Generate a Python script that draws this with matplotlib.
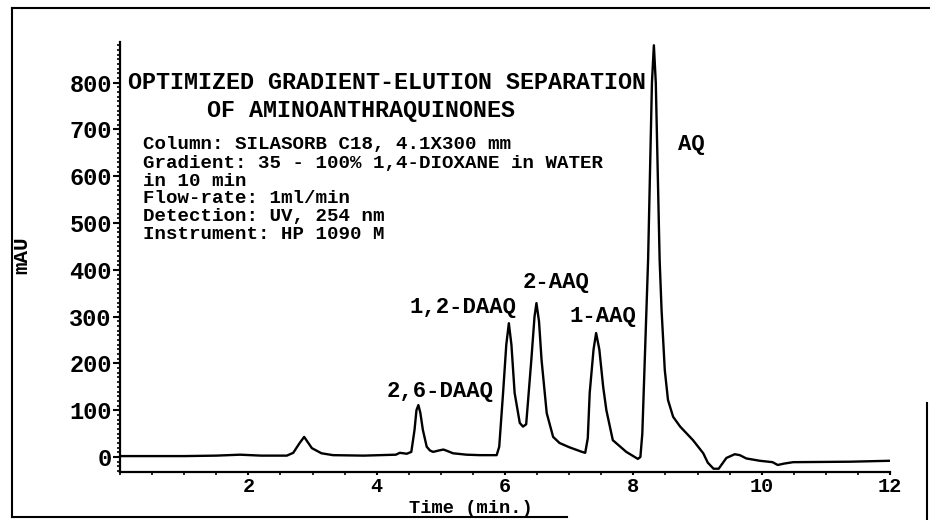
import matplotlib
matplotlib.use("Agg")
import matplotlib.pyplot as plt
from matplotlib.lines import Line2D
from matplotlib.ticker import MultipleLocator


# chromatogram trace (time in min, absorbance in mAU)
time_min = [
    0.00, 0.50, 1.00, 1.50, 1.87, 2.20, 2.60, 2.70, 2.80, 2.87, 2.92, 2.99,
    3.14, 3.32, 3.80, 4.30, 4.36, 4.47, 4.54, 4.59, 4.62, 4.65, 4.68, 4.72,
    4.78, 4.83, 4.88, 4.97, 5.04, 5.10, 5.19, 5.40, 5.61, 5.87, 5.91, 5.97,
    6.02, 6.06, 6.10, 6.15, 6.23, 6.28, 6.33, 6.41, 6.46, 6.49, 6.53, 6.57,
    6.65, 6.75, 6.85, 7.00, 7.20, 7.25, 7.29, 7.32, 7.38, 7.42, 7.47, 7.53,
    7.58, 7.68, 7.89, 8.07, 8.11, 8.14, 8.23, 8.29, 8.32, 8.35, 8.41, 8.44,
    8.49, 8.54, 8.62, 8.73, 8.93, 9.09, 9.16, 9.25, 9.33, 9.45, 9.58, 9.66,
    9.76, 9.97, 10.17, 10.25, 10.35, 10.49, 11.38, 12.00,
]
signal_mau = [
    2, 2, 2, 3, 5, 3, 3, 9, 30, 43, 33, 19,
    8, 4, 3, 5, 9, 7, 11, 58, 100, 111, 95, 58,
    22, 14, 11, 14, 16, 13, 8, 5, 4, 4, 22, 137,
    240, 286, 240, 137, 73, 65, 70, 207, 300, 329, 290, 207,
    94, 43, 30, 21, 11, 9, 40, 137, 230, 265, 230, 150,
    100, 36, 11, -4, 0, 50, 421, 800, 880, 800, 421, 314,
    186, 122, 86, 65, 36, 8, -12, -25, -25, -2, 6, 4,
    -3, -8, -11, -17, -14, -11, -10, -8,
]

peak_names = ["2,6-DAAQ", "1,2-DAAQ", "2-AAQ", "1-AAQ", "AQ"]
peak_label_pos = [(4.99, 139), (5.35, 320), (6.79, 372), (7.53, 301), (8.91, 667)]

title_lines = ["OPTIMIZED GRADIENT-ELUTION SEPARATION", "OF AMINOANTHRAQUINONES"]
info_lines = [
    "Column: SILASORB C18, 4.1X300 mm",
    "Gradient: 35 - 100% 1,4-DIOXANE in WATER",
    "in 10 min",
    "Flow-rate: 1ml/min",
    "Detection: UV, 254 nm",
    "Instrument: HP 1090 M",
]
info_y = [667, 627, 589, 553, 515, 476]

FONT = "Liberation Mono"

fig = plt.figure(figsize=(9.3, 5.2), dpi=100)
ax = fig.add_axes([120 / 930, 1 - 472 / 520, 770 / 930, 430 / 520])

ax.plot(time_min, signal_mau, color="black", lw=1.7, solid_joinstyle="round")

ax.set_xlim(0, 12)
ax.set_ylim(-32, 887)
ax.spines["top"].set_visible(False)
ax.spines["right"].set_visible(False)
ax.spines["left"].set_linewidth(1.6)
ax.spines["bottom"].set_linewidth(1.6)

ax.xaxis.set_major_locator(MultipleLocator(2))
ax.xaxis.set_minor_locator(MultipleLocator(0.5))
ax.yaxis.set_major_locator(MultipleLocator(100))
ax.yaxis.set_minor_locator(MultipleLocator(10))
ax.set_xticks([2, 4, 6, 8, 10, 12])
ax.set_yticks(range(0, 900, 100))
ax.tick_params(axis="y", which="major", direction="out", length=5, width=1.5, pad=1)
ax.tick_params(axis="y", which="minor", direction="out", length=2.5, width=1.2)
ax.tick_params(axis="x", which="major", direction="out", length=2.5, width=1.5, pad=1)
ax.tick_params(axis="x", which="minor", direction="out", length=2, width=1.2)
for lab in ax.get_yticklabels():
    lab.set_fontfamily(FONT)
    lab.set_fontweight("bold")
    lab.set_fontsize(17)
for lab in ax.get_xticklabels():
    lab.set_fontfamily(FONT)
    lab.set_fontweight("bold")
    lab.set_fontsize(14.5)

ax.set_xlabel("Time (min.)", fontfamily=FONT, fontweight="bold", fontsize=13.5,
              va="center")
ax.xaxis.set_label_coords(0.456, -0.086)
ax.set_ylabel("mAU", fontfamily=FONT, fontweight="bold", fontsize=15,
              va="center")
ax.yaxis.set_label_coords(-0.127, 0.505)

ax.text(0.12, 801, title_lines[0], fontfamily=FONT, fontweight="bold",
        fontsize=16.8, ha="left", va="center")
ax.text(1.36, 741, title_lines[1], fontfamily=FONT, fontweight="bold",
        fontsize=16.8, ha="left", va="center")
for line, y in zip(info_lines, info_y):
    ax.text(0.36, y, line, fontfamily=FONT, fontweight="bold", fontsize=13.8,
            ha="left", va="center")

for name, (x, y) in zip(peak_names, peak_label_pos):
    ax.text(x, y, name, fontfamily=FONT, fontweight="bold", fontsize=16,
            ha="center", va="center")

# scanned page border (partial, as in the original)
border = dict(color="black", lw=1.5, transform=fig.transFigure)
fig.add_artist(Line2D([0.013, 1.0], [0.985, 0.985], **border))
fig.add_artist(Line2D([0.013, 0.013], [0.005, 0.985], **border))
fig.add_artist(Line2D([0.013, 0.61], [0.006, 0.006], **border))
fig.add_artist(Line2D([0.997, 0.997], [0.0, 0.225], **border))

fig.savefig("out.png", dpi=100)
